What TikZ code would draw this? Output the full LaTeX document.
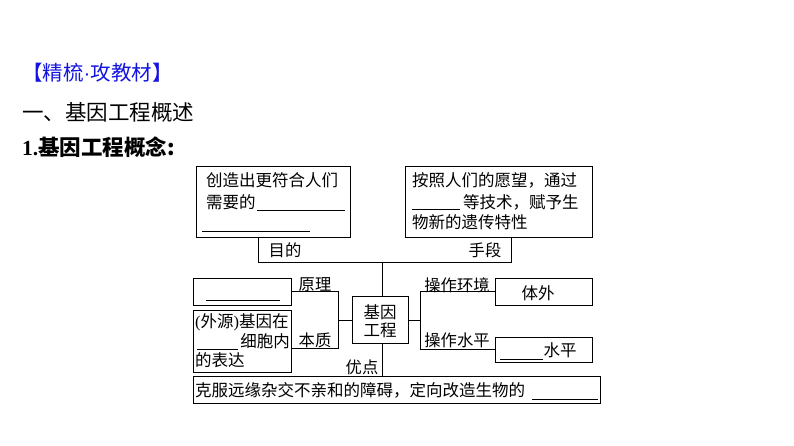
\documentclass[tikz,border=0pt]{standalone}
\usepackage{fontspec}
\setmainfont{Noto Sans CJK SC}
\newfontfamily\latinsans{Liberation Sans}
\newfontfamily\latinserif{Liberation Serif}
\definecolor{titleblue}{RGB}{20,20,225}
\tikzset{
  box/.style={draw, line width=0.8pt, inner sep=0pt},
  conn/.style={line width=0.8pt},
  blank/.style={line width=0.8pt},
  txt/.style={inner sep=0pt, font=\fontsize{16.5}{19}\selectfont},
  lbl/.style={inner sep=0pt, font=\fontsize{16.3}{19}\selectfont}
}
\begin{document}
\begin{tikzpicture}[x=1pt,y=-1pt]
\useasboundingbox (0,0) rectangle (794,446);
% headings
\node[inner sep=0pt, anchor=west, text=titleblue, font=\fontsize{20.5}{24}\selectfont] (h1) at (22,73) {【精梳{\latinsans ·}攻教材】};
\node[inner sep=0pt, anchor=west, font=\fontsize{21.5}{24}\selectfont] (h2) at (22,112) {一、基因工程概述};
\node[inner sep=0pt, anchor=west, font=\fontsize{21.5}{24}\selectfont\bfseries] (h3) at (22,147) {{\latinserif\bfseries 1.}基因工程概念:};
% boxes
\node[box, minimum width=154pt, minimum height=71pt] (b1) at (273,201.5) {};
\node[box, minimum width=187pt, minimum height=71pt] (b2) at (498.5,201.5) {};
\node[box, minimum width=98pt, minimum height=27pt] (b3) at (242,291.5) {};
\node[box, minimum width=98pt, minimum height=62pt] (b4) at (242,341) {};
\node[box, minimum width=56pt, minimum height=47pt] (core) at (380,319.5) {};
\node[box, minimum width=97pt, minimum height=27pt] (b5) at (543.5,291.5) {};
\node[box, minimum width=97pt, minimum height=25pt] (b6) at (543.5,349.5) {};
\node[box, minimum width=407pt, minimum height=27pt] (b7) at (396.5,389.5) {};
% box texts
\node[txt, anchor=west] (t11) at (206,180) {创造出更符合人们};
\node[txt, anchor=west] (t12) at (206,202) {需要的};
\draw[blank] (257,210) -- (345,210);
\draw[blank] (202,231) -- (310,231);
\node[txt, anchor=west] (t21) at (412,180) {按照人们的愿望，通过};
\draw[blank] (412,209) -- (460,209);
\node[txt, anchor=west] (t22) at (463,202) {等技术，赋予生};
\node[txt, anchor=west] (t23) at (412,222) {物新的遗传特性};
\draw[blank] (206,300) -- (280,300);
\node[txt, anchor=west] (t41) at (195,322) {{\latinserif (}外源{\latinserif )}基因在};
\node[txt, anchor=east] (t42) at (290,341) {细胞内};
\draw[blank] (197,349) -- (238,349);
\node[txt, anchor=west] (t43) at (195,360) {的表达};
\node[txt] (c1) at (380,312) {基因};
\node[txt] (c2) at (380,330) {工程};
\node[txt] (t5) at (538,293) {体外};
\draw[blank] (500,359) -- (543,359);
\node[txt] (t6) at (560,350) {水平};
\node[txt, anchor=west] (t7) at (195,390) {克服远缘杂交不亲和的障碍，定向改造生物的};
\draw[blank] (532,399) -- (598,399);
% labels
\node[lbl] (l1) at (285,250) {目的};
\node[lbl] (l2) at (485,250) {手段};
\node[lbl] (l3) at (315,285) {原理};
\node[lbl] (l4) at (315,340) {本质};
\node[lbl] (l5) at (362,367) {优点};
\node[lbl] (l6) at (457,285) {操作环境};
\node[lbl] (l7) at (457,340) {操作水平};
% connectors
\coordinate (tl) at (258,262);
\coordinate (tr) at (511,262);
\coordinate (tm) at (382,262);
\draw[conn] (b1.south -| tl) -- (tl) -- (tr) -- (b2.south -| tr);
\draw[conn] (tm) -- (tm |- core.north);
\coordinate (lb) at (338,320);
\draw[conn] (b3.east) -| (lb |- 0,348) -- (b4.east |- 0,348);
\draw[conn] (lb) -- (core.west |- lb);
\coordinate (rb) at (420,320);
\draw[conn] (core.east |- rb) -- (rb);
\draw[conn] (b5.west) -| (rb |- b6.west) -- (b6.west);
\draw[conn] (core.south -| tm) -- (b7.north -| tm);
\end{tikzpicture}
\end{document}
